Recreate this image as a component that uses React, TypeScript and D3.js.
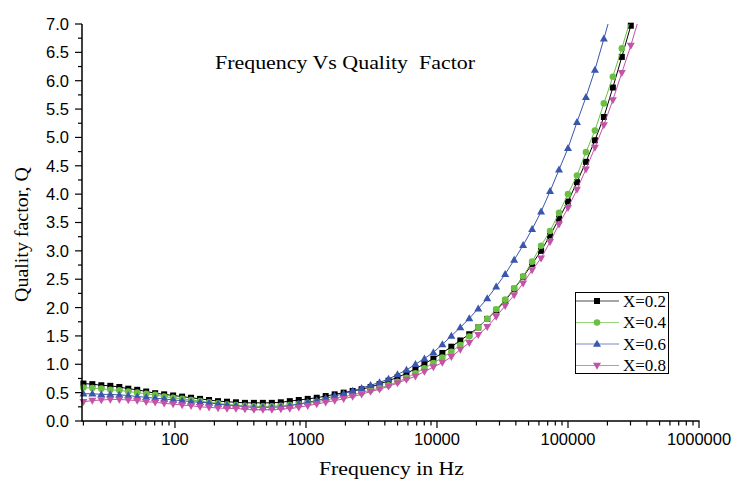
import React from 'react';
import * as d3 from 'd3';

// frequency sweep (Hz), shared by all series
const freq = [
  20, 23.4, 27.4, 32.1, 37.6, 44.0, 51.5, 60.3, 70.6, 82.7,
  96.8, 113.4, 132.7, 155.4, 182.0, 213.1, 249.5, 292.1, 342.0, 400.4,
  468.8, 548.9, 642.7, 752.5, 881.0, 1031, 1208, 1414, 1656, 1939,
  2270, 2658, 3112, 3644, 4266, 4995, 5848, 6847, 8017, 9387,
  10990, 12870, 15070, 17640, 20650, 24180, 28310, 33150, 38820, 45450,
  53210, 62300, 72940, 85410, 100000, 117100, 137100, 160500, 187900, 220000,
  257600, 301600, 353200,
];

const q02 = [
  0.66, 0.65, 0.63, 0.62, 0.60, 0.57, 0.55, 0.52, 0.49, 0.47,
  0.45, 0.43, 0.41, 0.39, 0.37, 0.35, 0.34, 0.33, 0.32, 0.32,
  0.32, 0.32, 0.33, 0.35, 0.37, 0.39, 0.41, 0.44, 0.47, 0.50,
  0.53, 0.56, 0.60, 0.65, 0.71, 0.77, 0.84, 0.92, 1.01, 1.10,
  1.20, 1.31, 1.42, 1.53, 1.65, 1.80, 1.95, 2.12, 2.33, 2.54,
  2.77, 3.00, 3.27, 3.57, 3.87, 4.21, 4.57, 4.95, 5.36, 5.88,
  6.42, 6.97,
];

const q04 = [
  0.59, 0.58, 0.57, 0.55, 0.54, 0.52, 0.50, 0.48, 0.46, 0.43,
  0.41, 0.39, 0.37, 0.35, 0.33, 0.31, 0.29, 0.28, 0.27, 0.26,
  0.26, 0.26, 0.27, 0.28, 0.30, 0.32, 0.34, 0.37, 0.40, 0.43,
  0.46, 0.50, 0.54, 0.58, 0.63, 0.69, 0.76, 0.84, 0.93, 1.02,
  1.12, 1.22, 1.34, 1.49, 1.65, 1.80, 1.97, 2.14, 2.34, 2.55,
  2.81, 3.09, 3.35, 3.67, 4.00, 4.33, 4.74, 5.12, 5.60, 6.07,
  6.57, 7.10,
];

const q06 = [
  0.48, 0.48, 0.47, 0.47, 0.46, 0.45, 0.43, 0.42, 0.40, 0.39,
  0.37, 0.36, 0.34, 0.33, 0.32, 0.30, 0.28, 0.27, 0.25, 0.24,
  0.24, 0.24, 0.25, 0.27, 0.30, 0.33, 0.36, 0.40, 0.44, 0.48,
  0.53, 0.58, 0.63, 0.68, 0.74, 0.82, 0.90, 1.00, 1.10, 1.21,
  1.35, 1.50, 1.65, 1.81, 1.98, 2.16, 2.37, 2.59, 2.84, 3.10,
  3.38, 3.69, 4.05, 4.43, 4.81, 5.27, 5.71, 6.19, 6.74, 7.30,
];

const q08 = [
  0.34, 0.36, 0.37, 0.38, 0.38, 0.37, 0.36, 0.34, 0.33, 0.31,
  0.30, 0.28, 0.27, 0.25, 0.24, 0.23, 0.22, 0.22, 0.21, 0.20,
  0.20, 0.20, 0.21, 0.22, 0.24, 0.27, 0.30, 0.33, 0.36, 0.39,
  0.43, 0.47, 0.52, 0.56, 0.61, 0.67, 0.73, 0.79, 0.87, 0.95,
  1.03, 1.13, 1.26, 1.38, 1.52, 1.66, 1.84, 2.03, 2.22, 2.43,
  2.66, 2.87, 3.16, 3.47, 3.76, 4.08, 4.44, 4.82, 5.22, 5.66,
  6.14, 6.62, 7.15,
];

const seriesNames = ['X=0.2', 'X=0.4', 'X=0.6', 'X=0.8'];
const seriesValues = [q02, q04, q06, q08];
const colors = ['#000000', '#6cbf45', '#3a56ad', '#c453a8'];
const markers = ['square', 'circle', 'triangle', 'down'];

const xTickLabels = ['100', '1000', '10000', '100000', '1000000'];

const W = 737;
const H = 481;
const x = d3.scaleLog().domain([20, 1e6]).range([83.4, 699]);
const y = d3.scaleLinear().domain([0, 7]).range([421, 24]);

const serif = '"Liberation Serif", "Times New Roman", serif';
const sans = '"Liberation Sans", Arial, sans-serif';

const Marker = ({ kind, cx, cy, color }: { kind: string; cx: number; cy: number; color: string }) => {
  if (kind === 'square') return <rect x={cx - 3} y={cy - 3} width={6} height={6} fill={color} />;
  if (kind === 'circle') return <circle cx={cx} cy={cy} r={3.3} fill={color} />;
  if (kind === 'triangle')
    return <path d={`M${cx},${cy - 4.2}L${cx + 4},${cy + 2.8}L${cx - 4},${cy + 2.8}Z`} fill={color} />;
  return <path d={`M${cx},${cy + 4.2}L${cx + 4},${cy - 2.8}L${cx - 4},${cy - 2.8}Z`} fill={color} />;
};

const App = () => {
  const line = d3
    .line<number>()
    .x((_, i) => x(freq[i]))
    .y((d) => y(d));

  const xTicks = x.ticks();
  const yTicks = d3.range(0, 7.001, 0.25);

  return (
    <svg width={W} height={H} style={{ position: 'absolute', left: 0, top: 0, background: '#fff' }}>
      <defs>
        <clipPath id="plot">
          <rect x={82} y={24} width={620} height={397} />
        </clipPath>
      </defs>

      {/* series */}
      {seriesValues.map((vals, s) => (
        <g key={s}>
          <path d={line(vals) || ''} fill="none" stroke={colors[s]} strokeWidth={1} clipPath="url(#plot)" />
          {vals.map((v, i) =>
            v <= 7 ? <Marker key={i} kind={markers[s]} cx={x(freq[i])} cy={y(v)} color={colors[s]} /> : null
          )}
        </g>
      ))}

      {/* x axis */}
      <line x1={82} x2={699.5} y1={421} y2={421} stroke="#000" strokeWidth={1.5} />
      {xTicks.map((t, i) => {
        const major = Math.abs(Math.log10(t) - Math.round(Math.log10(t))) < 1e-9;
        return (
          <line key={i} x1={x(t)} x2={x(t)} y1={421} y2={421 + (major ? 7 : 4.5)} stroke="#000" strokeWidth={1.2} />
        );
      })}
      {xTickLabels.map((l) => (
        <text key={l} x={x(+l)} y={445} textAnchor="middle" fontFamily={sans} fontSize={16.5} fill="#000">
          {l}
        </text>
      ))}

      {/* y axis */}
      <line x1={82} x2={82} y1={24} y2={421.5} stroke="#000" strokeWidth={1.5} />
      {yTicks.map((t, i) => {
        const major = i % 2 === 0;
        return (
          <g key={i}>
            <line x1={82 - (major ? 7 : 4)} x2={82} y1={y(t)} y2={y(t)} stroke="#000" strokeWidth={1.2} />
            {major && (
              <text x={69} y={y(t)} dy="0.36em" textAnchor="end" fontFamily={sans} fontSize={16.5} fill="#000">
                {t.toFixed(1)}
              </text>
            )}
          </g>
        );
      })}

      {/* labels */}
      <text
        x={215}
        y={69}
        fontFamily={serif}
        fontSize={19}
        fill="#000"
        textLength={260}
        lengthAdjust="spacingAndGlyphs"
        style={{ whiteSpace: 'pre' }}
      >
        {'Frequency Vs Quality  Factor'}
      </text>
      <text
        x={319}
        y={475}
        fontFamily={serif}
        fontSize={19.5}
        fill="#000"
        textLength={145}
        lengthAdjust="spacingAndGlyphs"
      >
        Frequency in Hz
      </text>
      <text
        transform="translate(28,302) rotate(-90)"
        fontFamily={serif}
        fontSize={19.5}
        fill="#000"
        textLength={135}
        lengthAdjust="spacingAndGlyphs"
      >
        Quality factor, Q
      </text>

      {/* legend */}
      <rect x={575.5} y={292.5} width={93} height={81} fill="#fff" stroke="#000" strokeWidth={1} />
      {seriesNames.map((n, s) => {
        const ry = 301 + s * 21.5;
        return (
          <g key={n}>
            <line x1={576} x2={619} y1={ry} y2={ry} stroke={colors[s]} strokeWidth={1.2} opacity={0.7} />
            <Marker kind={markers[s]} cx={597} cy={ry} color={colors[s]} />
            <text x={623} y={ry} dy="0.35em" fontFamily={serif} fontSize={17} fill="#000">
              {n}
            </text>
          </g>
        );
      })}
    </svg>
  );
};

export default App;
